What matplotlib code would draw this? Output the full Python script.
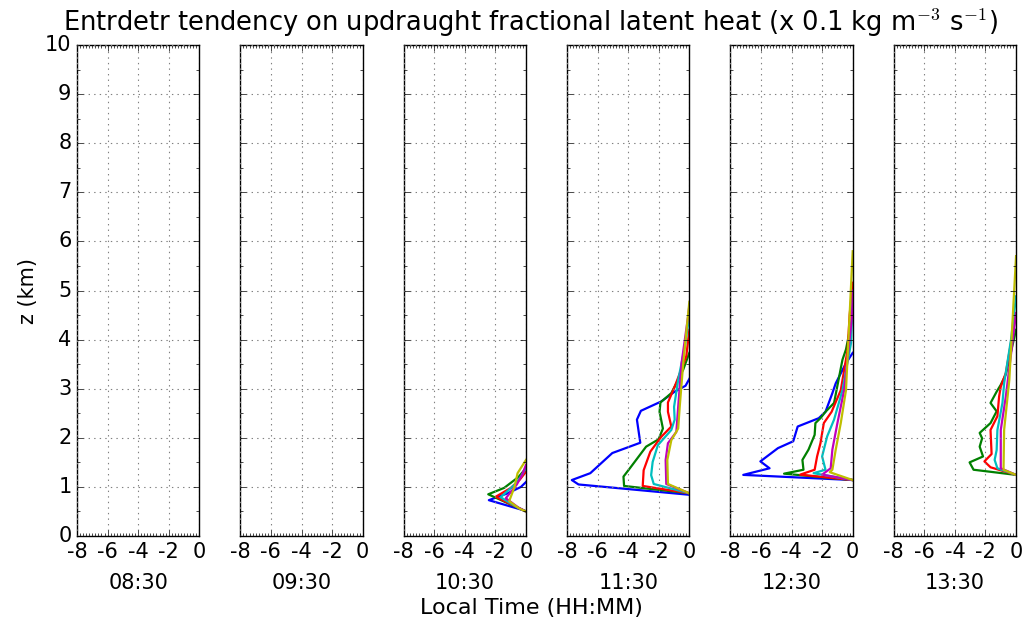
import matplotlib
matplotlib.use("Agg")
import matplotlib.pyplot as plt
from matplotlib.ticker import MultipleLocator

plt.style.use("classic")
plt.rcParams["axes.unicode_minus"] = False
plt.rcParams["font.family"] = ["DejaVu Sans"]

times = ["08:30", "09:30", "10:30", "11:30", "12:30", "13:30"]
colors = ["b", "g", "r", "c", "m", "y"]

# profiles per panel: colour -> (x values, z values in km)
p0830 = {}
p0930 = {}
p1030 = {
    "b": ([0, -0.22, -2.43, -1.2, -0.33, 0], [0.5, 0.53, 0.73, 0.87, 1.0, 1.1]),
    "g": ([0, -1.2, -2.47, -1.43, -0.5, 0], [0.5, 0.67, 0.85, 0.98, 1.2, 1.38]),
    "r": ([0, -0.88, -1.98, -0.99, -0.4, 0], [0.5, 0.63, 0.80, 0.98, 1.15, 1.31]),
    "c": ([0, -0.66, -1.66, -0.66, -0.25, 0], [0.5, 0.6, 0.79, 1.07, 1.25, 1.4]),
    "m": ([0, -0.5, -1.32, -0.6, -0.25, 0], [0.5, 0.58, 0.77, 1.05, 1.25, 1.45]),
    "y": ([0, -0.44, -1.1, -0.75, -0.55, 0], [0.5, 0.56, 0.71, 1.0, 1.28, 1.55]),
}
p1130 = {
    "b": ([0, -7.25, -7.69, -6.48, -5.04, -3.21, -3.43, -3.17, -1.84, -0.96, -0.25, 0],
          [0.84, 1.05, 1.14, 1.28, 1.69, 1.90, 2.37, 2.55, 2.74, 2.94, 3.06, 3.2]),
    "g": ([0, -4.27, -4.31, -3.94, -2.83, -2.01, -1.73, -1.95, -1.89, -1.18, -0.4, 0],
          [0.87, 1.02, 1.21, 1.36, 1.82, 1.97, 2.19, 2.53, 2.72, 2.91, 3.39, 3.73]),
    "r": ([0, -3.05, -2.99, -2.55, -1.84, -1.18, -1.40, -1.40, -0.96, -0.63, -0.2, 0],
          [0.87, 1.02, 1.34, 1.72, 2.02, 2.23, 2.53, 2.72, 3.04, 3.31, 3.66, 4.2]),
    "c": ([0, -2.33, -2.5, -2.4, -2.06, -1.18, -0.96, -1.0, -0.73, -0.29, 0],
          [0.87, 1.06, 1.24, 1.51, 1.85, 2.16, 2.37, 2.63, 3.18, 3.86, 4.5]),
    "m": ([0, -1.51, -1.55, -1.4, -0.85, -0.73, -0.51, -0.07, 0],
          [0.87, 1.06, 1.55, 1.89, 2.12, 2.63, 3.52, 4.5, 4.7]),
    "y": ([0, -1.4, -1.44, -1.18, -0.73, -0.63, -0.4, 0],
          [0.87, 1.06, 1.55, 1.95, 2.19, 2.63, 3.52, 4.77]),
}
p1230 = {
    "b": ([0, -7.16, -5.44, -6.04, -4.89, -3.89, -3.6, -2.22, -1.78, -1.33, -1.11, -0.44, 0],
          [1.14, 1.245, 1.38, 1.52, 1.79, 1.93, 2.23, 2.40, 2.53, 2.91, 3.11, 3.52, 3.73]),
    "g": ([0, -4.49, -3.22, -3.29, -2.89, -2.49, -2.44, -2.11, -1.78, -1.22, -0.67, -0.44, 0],
          [1.14, 1.27, 1.35, 1.55, 1.76, 2.06, 2.30, 2.40, 2.53, 2.71, 3.59, 3.80, 4.48]),
    "r": ([0, -3.44, -2.49, -2.33, -2.11, -1.89, -1.38, -0.78, -0.33, -0.2, 0],
          [1.14, 1.25, 1.35, 1.62, 1.89, 2.30, 2.53, 2.97, 3.80, 4.5, 5.16]),
    "c": ([0, -2.56, -1.78, -2.0, -1.67, -1.22, -0.67, -0.11, 0],
          [1.14, 1.28, 1.35, 1.62, 2.03, 2.37, 2.97, 3.93, 4.82]),
    "m": ([0, -2.0, -1.44, -1.33, -1.0, -0.56, -0.04, 0],
          [1.14, 1.25, 1.38, 1.76, 2.30, 2.97, 4.48, 5.0]),
    "y": ([0, -1.5, -1.33, -1.11, -0.78, -0.44, 0],
          [1.14, 1.30, 1.35, 1.76, 2.30, 2.97, 5.8]),
}
p1330 = {
    "g": ([0, -2.78, -3.04, -2.16, -2.38, -2.22, -2.38, -1.67, -1.27, -1.67, -1.27, -1.0, -0.67, 0],
          [1.245, 1.35, 1.50, 1.62, 1.82, 1.99, 2.10, 2.3, 2.54, 2.71, 2.94, 3.08, 3.29, 4.2]),
    "r": ([0, -1.67, -2.07, -1.6, -1.67, -1.22, -1.11, -1.0, -0.67, 0],
          [1.245, 1.40, 1.52, 1.67, 2.16, 2.44, 2.84, 3.04, 3.32, 4.54]),
    "c": ([0, -1.22, -1.4, -1.27, -1.22, -0.89, -0.78, -0.33, 0],
          [1.245, 1.38, 1.55, 1.75, 2.16, 2.71, 3.11, 4.0, 4.88]),
    "m": ([0, -1.0, -1.0, -0.67, 0],
          [1.245, 1.38, 2.16, 2.84, 4.54]),
    "y": ([0, -0.82, -0.78, -0.44, 0],
          [1.245, 1.35, 2.16, 3.18, 5.7]),
}
panels = [p0830, p0930, p1030, p1130, p1230, p1330]

fig, axes = plt.subplots(1, 6, figsize=(10.31, 6.27), dpi=100, sharey=True)
fig.patch.set_facecolor("white")
fig.subplots_adjust(left=0.0747, right=0.9855, bottom=0.1451, top=0.9282, wspace=0.336)

for i, (ax, data, t) in enumerate(zip(axes, panels, times)):
    for c in colors:
        if c in data:
            xs, zs = data[c]
            ax.plot(xs, zs, color=c, lw=1.6)
    ax.set_xlim(-8, 0)
    ax.set_ylim(0, 10)
    ax.set_xticks([-8, -6, -4, -2, 0])
    ax.set_yticks(range(0, 11))
    ax.xaxis.set_minor_locator(MultipleLocator(0.2))
    ax.yaxis.set_minor_locator(MultipleLocator(0.5))
    ax.grid(True, color="gray", linestyle=":", lw=0.8)
    ax.tick_params(labelsize=15)
    ax.set_xlabel(t, fontsize=15, labelpad=8)
    if i == 0:
        ax.set_ylabel("z (km)", fontsize=15)
    else:
        ax.tick_params(labelleft=False)

fig.text(0.515, 0.02, "Local Time (HH:MM)", ha="center", fontsize=16)
fig.suptitle("Entrdetr tendency on updraught fractional latent heat (x 0.1 kg m$^{-3}$ s$^{-1}$)",
             x=0.515, y=0.99, fontsize=18.5)

fig.savefig("out.png", dpi=100, facecolor="white")
